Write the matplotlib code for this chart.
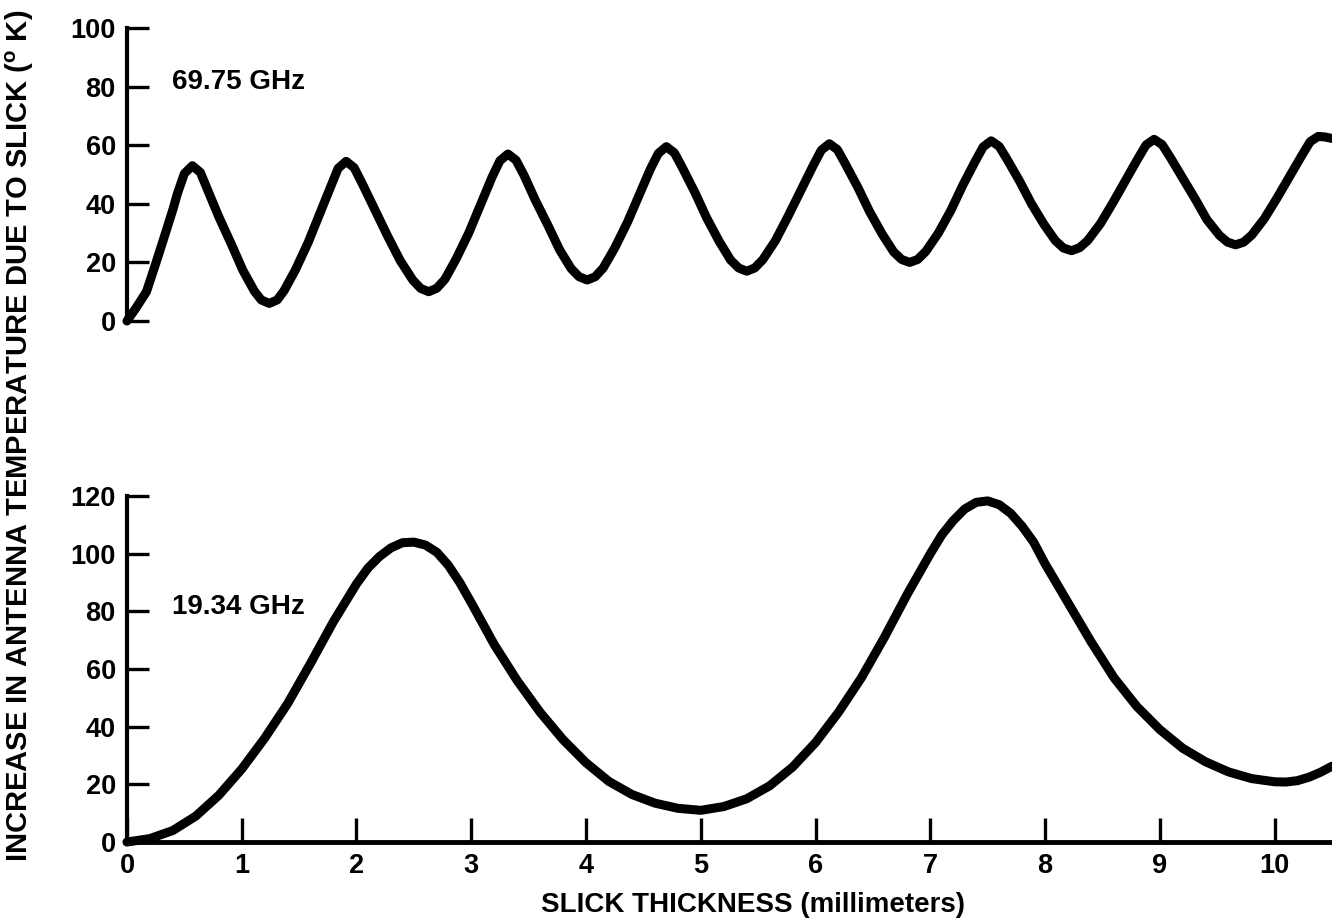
import matplotlib
matplotlib.use("Agg")
import matplotlib.pyplot as plt

plt.rcParams['font.family'] = ['Liberation Sans', 'DejaVu Sans']
plt.rcParams['font.weight'] = 'bold'
plt.rcParams['mathtext.fontset'] = 'custom'
plt.rcParams['mathtext.bf'] = 'Liberation Sans:bold'
plt.rcParams['mathtext.rm'] = 'Liberation Sans:bold'

# 69.75 GHz curve
top_x = [0.0, 0.08, 0.17, 0.25, 0.33, 0.40, 0.44, 0.50, 0.57,
         0.64, 0.70, 0.80, 0.91, 1.01, 1.11, 1.17, 1.24,
         1.31, 1.37, 1.47, 1.58, 1.68, 1.78, 1.84, 1.91,
         1.98, 2.05, 2.16, 2.27, 2.38, 2.49, 2.56, 2.63,
         2.70, 2.77, 2.87, 2.98, 3.08, 3.18, 3.25, 3.32,
         3.39, 3.46, 3.56, 3.67, 3.77, 3.87, 3.94, 4.01,
         4.08, 4.15, 4.25, 4.36, 4.46, 4.56, 4.63, 4.70,
         4.77, 4.84, 4.95, 5.05, 5.16, 5.26, 5.33, 5.40,
         5.47, 5.54, 5.65, 5.76, 5.87, 5.98, 6.05, 6.12,
         6.19, 6.26, 6.37, 6.47, 6.58, 6.68, 6.75, 6.82,
         6.89, 6.96, 7.07, 7.18, 7.28, 7.39, 7.46, 7.53,
         7.60, 7.67, 7.78, 7.88, 7.99, 8.09, 8.16, 8.23,
         8.30, 8.37, 8.48, 8.59, 8.70, 8.81, 8.88, 8.95,
         9.02, 9.09, 9.20, 9.31, 9.41, 9.52, 9.59, 9.66,
         9.73, 9.80, 9.91, 10.02, 10.13, 10.24, 10.31, 10.38,
         10.44, 10.5]
top_y = [0, 4.5, 10, 19.5, 29.3, 38, 43.5, 50.3, 53,
         50.7, 45.0, 35.6, 26.2, 17.3, 10.2, 7.2, 6,
         7.2, 10.4, 17.6, 26.9, 36.6, 46.3, 52.1, 54.5,
         52.3, 46.9, 38.0, 29.1, 20.7, 14.0, 11.1, 10,
         11.2, 14.2, 21.3, 30.2, 39.6, 49.0, 54.7, 57,
         54.9, 49.7, 41.1, 32.5, 24.3, 17.9, 15.1, 14,
         15.1, 18.1, 24.9, 33.6, 42.7, 51.8, 57.2, 59.5,
         57.4, 52.3, 43.8, 35.3, 27.2, 20.8, 18.1, 17,
         18.1, 20.9, 27.4, 35.7, 44.4, 53.1, 58.3, 60.5,
         58.5, 53.6, 45.5, 37.4, 29.7, 23.6, 21.0, 20,
         21.0, 23.7, 30.0, 37.8, 46.1, 54.4, 59.4, 61.5,
         59.6, 55.1, 47.6, 40.1, 33.0, 27.4, 24.9, 24,
         25.0, 27.4, 33.1, 40.3, 47.9, 55.5, 60.1, 62,
         60.2, 55.9, 48.7, 41.5, 34.6, 29.2, 26.9, 26,
         26.9, 29.3, 34.9, 41.9, 49.3, 56.7, 61.2, 63,
         62.8, 62.3]

# 19.34 GHz curve
bot_x = [0.0, 0.2, 0.4, 0.6, 0.8, 1.0, 1.2, 1.4, 1.6, 1.8, 2.0, 2.1, 2.2, 2.3,
         2.4, 2.5, 2.6, 2.7, 2.8, 2.9, 3.0, 3.2, 3.4, 3.6, 3.8, 4.0, 4.2, 4.4,
         4.6, 4.8, 5.0, 5.2, 5.4, 5.6, 5.8, 6.0, 6.2, 6.4, 6.6, 6.8, 7.0, 7.1,
         7.2, 7.3, 7.4, 7.5, 7.6, 7.7, 7.8, 7.9, 8.0, 8.2, 8.4, 8.6, 8.8, 9.0,
         9.2, 9.4, 9.6, 9.8, 10.0, 10.1, 10.2, 10.3, 10.4, 10.5]
bot_y = [0, 1.2, 4.0, 9.0, 16.2, 25.3, 36, 48, 62, 76.5, 89.5, 95, 99, 102,
         103.8, 104, 103, 100.5, 96, 90, 83, 68.5, 56, 45, 35.5, 27.5, 21, 16.5,
         13.5, 11.7, 11.0, 12.3, 15, 19.5, 26, 34.5, 45, 57, 71, 86, 100, 106.5,
         111.5, 115.5, 117.8, 118.3, 117, 114, 109.5, 104, 96.5, 83, 69.5, 57, 47, 39,
         32.5, 27.8, 24.3, 22, 20.9, 20.8, 21.3, 22.5, 24.2, 26.3]

top_ticks = [0, 20, 40, 60, 80, 100]
bot_ticks = [0, 20, 40, 60, 80, 100, 120]
x_ticks = [0, 1, 2, 3, 4, 5, 6, 7, 8, 9, 10]

fig = plt.figure(figsize=(13.32, 9.24), dpi=100)
ax_top = fig.add_axes([0.0953, 0.6526, 0.9047, 0.3171])
ax_bot = fig.add_axes([0.0953, 0.0887, 0.9047, 0.3745])

for ax in (ax_top, ax_bot):
    ax.set_xlim(0, 10.5)
    for s in ('top', 'right'):
        ax.spines[s].set_visible(False)
    ax.spines['left'].set_linewidth(3)
    ax.tick_params(axis='y', direction='in', length=16, width=2.4,
                   labelsize=19.5, pad=8)
    ax.tick_params(axis='x', direction='in', length=17, width=2.4,
                   labelsize=19.5, pad=8)

ax_top.plot(top_x, top_y, color='black', lw=6.5, solid_capstyle='round',
            solid_joinstyle='round', clip_on=False)
ax_top.set_ylim(0, 100)
ax_top.set_yticks(top_ticks)
ax_top.spines['bottom'].set_visible(False)
ax_top.set_xticks([])
ax_top.text(0.39, 81.5, '69.75 GHz', fontsize=20, fontweight='bold',
            va='center', ha='left')

ax_bot.plot(bot_x, bot_y, color='black', lw=6.5, solid_capstyle='round',
            solid_joinstyle='round', clip_on=False)
ax_bot.set_ylim(0, 120)
ax_bot.set_yticks(bot_ticks)
ax_bot.set_xticks(x_ticks)
ax_bot.spines['bottom'].set_linewidth(3.5)
ax_bot.text(0.39, 81.5, '19.34 GHz', fontsize=20, fontweight='bold',
            va='center', ha='left')

fig.text(0.015, 0.528, r'INCREASE IN ANTENNA TEMPERATURE DUE TO SLICK ($^{\mathbf{o}}$ K)',
         rotation=90, ha='center', va='center', fontsize=21, fontweight='bold')
fig.text(0.565, 0.021, 'SLICK THICKNESS (millimeters)', ha='center', va='center',
         fontsize=20, fontweight='bold')

fig.savefig('out.png', dpi=100)
